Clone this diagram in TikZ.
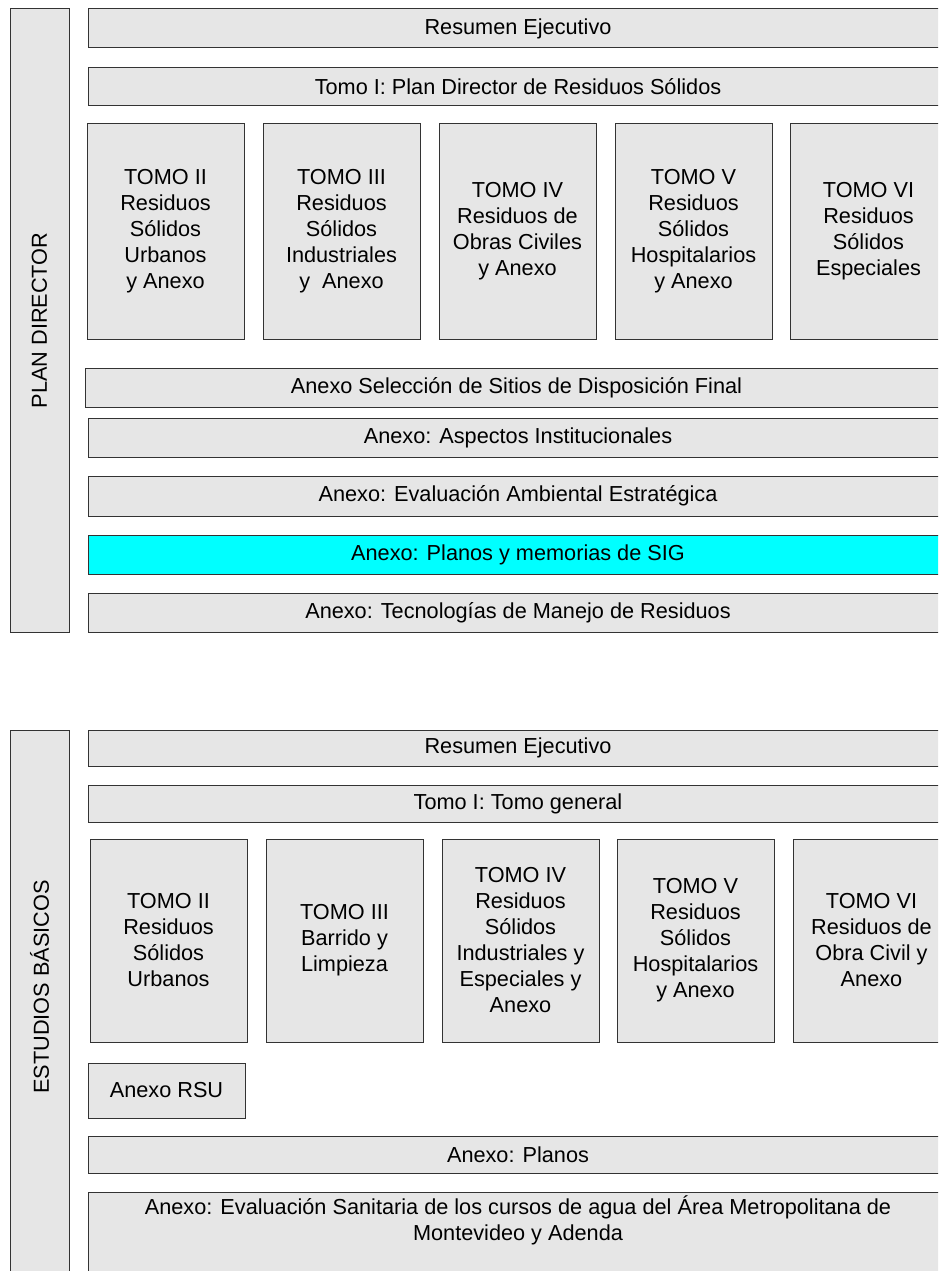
\documentclass[tikz,border=0pt]{standalone}
\usepackage{fontspec}
\setmainfont{Liberation Sans}
\usetikzlibrary{positioning}
\definecolor{gris}{RGB}{230,230,230}
\definecolor{celeste}{RGB}{0,255,255}
\tikzset{
  caja/.style={draw=black!80, fill=gris, line width=1pt, anchor=north west,
    inner sep=0pt, outer sep=0pt, align=center,
    font=\fontsize{21.7}{26}\selectfont},
  rotulo/.style={inner sep=0pt, align=center, font=\fontsize{21.7}{26}\selectfont},
}
\begin{document}
\begin{tikzpicture}[x=1pt, y=-1pt]
  \useasboundingbox (0,0) rectangle (938,1271);
  \clip (0,0) rectangle (938,1271);
  % plan director
  \node[caja, minimum width=59, minimum height=623] (pd) at (10,9) {};
  \node[rotulo, rotate=90] (pdtxt) at (pd.center) {PLAN DIRECTOR};
  \node[caja, minimum width=860, minimum height=39] (resA) at (88,9) {Resumen Ejecutivo};
  \node[caja, minimum width=860, minimum height=38] (tomoIA) at (88,68) {Tomo I: Plan Director de Residuos Sólidos};
  \node[caja, minimum width=157, minimum height=215] (tIIA) at (87,124) {TOMO II\\Residuos\\Sólidos\\Urbanos\\y Anexo};
  \node[caja, minimum width=157, minimum height=215] (tIIIA) at (263,124) {TOMO III\\Residuos\\Sólidos\\Industriales\\y~ Anexo};
  \node[caja, minimum width=157, minimum height=215] (tIVA) at (439,124) {TOMO IV\\Residuos de\\Obras Civiles\\y Anexo};
  \node[caja, minimum width=157, minimum height=215] (tVA) at (615,124) {TOMO V\\Residuos\\Sólidos\\Hospitalarios\\y Anexo};
  \node[caja, minimum width=157, minimum height=215] (tVIA) at (790,124) {TOMO VI\\Residuos\\Sólidos\\Especiales};
  \node[caja, minimum width=863, minimum height=39] (sitios) at (85,368) {Anexo Selección de Sitios de Disposición Final};
  \node[caja, minimum width=860, minimum height=39] (instit) at (88,418) {Anexo: Aspectos Institucionales};
  \node[caja, minimum width=860, minimum height=40] (eae) at (88,476) {Anexo: Evaluación Ambiental Estratégica};
  \node[caja, fill=celeste, minimum width=860, minimum height=39] (sig) at (88,535) {Anexo: Planos y memorias de SIG};
  \node[caja, minimum width=860, minimum height=39] (tecno) at (88,593) {Anexo: Tecnologías de Manejo de Residuos};
  % estudios basicos
  \node[caja, minimum width=59, minimum height=600] (eb) at (10,730) {};
  \node[rotulo, rotate=90] (ebtxt) at (39.5,987) {ESTUDIOS BÁSICOS};
  \node[caja, minimum width=860, minimum height=36] (resB) at (88,730) {Resumen Ejecutivo};
  \node[caja, minimum width=860, minimum height=37] (tomoIB) at (88,785) {Tomo I: Tomo general};
  \node[caja, minimum width=157, minimum height=203] (tIIB) at (90,839) {TOMO II\\Residuos\\Sólidos\\Urbanos};
  \node[caja, minimum width=157, minimum height=203] (tIIIB) at (266,839) {TOMO III\\Barrido y\\Limpieza};
  \node[caja, minimum width=157, minimum height=203] (tIVB) at (442,839) {TOMO IV\\Residuos\\Sólidos\\Industriales y\\Especiales y\\Anexo};
  \node[caja, minimum width=157, minimum height=203] (tVB) at (617,839) {TOMO V\\Residuos\\Sólidos\\Hospitalarios\\y Anexo};
  \node[caja, minimum width=157, minimum height=203] (tVIB) at (793,839) {TOMO VI\\Residuos de\\Obra Civil y\\Anexo};
  \node[caja, minimum width=157, minimum height=55] (rsu) at (88,1063) {Anexo RSU};
  \node[caja, minimum width=860, minimum height=37] (planos) at (88,1136) {Anexo: Planos};
  \node[caja, minimum width=860, minimum height=100] (sanit) at (88,1192) {};
  \node[rotulo, below=3pt of sanit.north] (sanittxt) {Anexo: Evaluación Sanitaria de los cursos de agua del Área Metropolitana de\\Montevideo y Adenda};
\end{tikzpicture}
\end{document}
